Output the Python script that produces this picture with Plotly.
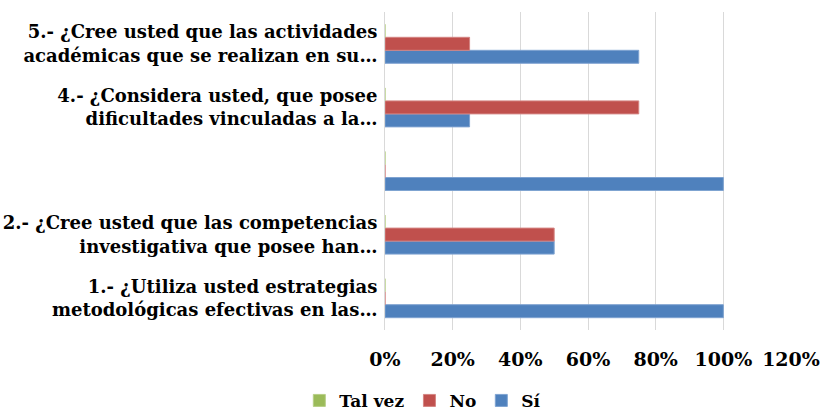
import plotly.graph_objects as go

categories = [
    "1.- ¿Utiliza usted estrategias<br>metodológicas efectivas en las…",
    "2.- ¿Cree usted que las competencias<br>investigativa que posee han…",
    " ",
    "4.- ¿Considera usted, que posee<br>dificultades vinculadas a la…",
    "5.- ¿Cree usted que las actividades<br>académicas que se realizan en su…",
]
si_values = [1.00, 0.50, 1.00, 0.25, 0.75]
no_values = [0.00, 0.50, 0.00, 0.75, 0.25]
talvez_values = [0.00, 0.00, 0.00, 0.00, 0.00]
tick_vals = [0, 0.2, 0.4, 0.6, 0.8, 1.0, 1.2]
tick_text = ["0%", "20%", "40%", "60%", "80%", "100%", "120%"]

FONT = "DejaVu Serif"

fig = go.Figure()
fig.add_trace(go.Bar(name="Sí", y=categories, x=si_values, orientation="h",
                     marker=dict(color="#4F81BD", line=dict(color="#7FA3D1", width=1))))
fig.add_trace(go.Bar(name="No", y=categories, x=no_values, orientation="h",
                     marker=dict(color="#C0504D", line=dict(color="#D48482", width=1))))
fig.add_trace(go.Bar(name="Tal vez", y=categories, x=talvez_values, orientation="h",
                     marker=dict(color="#9BBB59", line=dict(color="#B7CF87", width=1))))

fig.update_layout(
    width=821, height=412,
    margin=dict(l=385, r=30, t=12, b=82),
    barmode="group",
    bargap=0.387,
    bargroupgap=0,
    plot_bgcolor="white",
    paper_bgcolor="white",
    font=dict(family=FONT, size=18, color="black", weight="bold"),
    showlegend=True,
    legend=dict(orientation="h", traceorder="reversed",
                xref="container", yref="container",
                x=0.515, y=0.027, xanchor="center", yanchor="middle",
                itemwidth=30,
                font=dict(family=FONT, size=17, color="black", weight="bold")),
    xaxis=dict(range=[0, 1.2], tickvals=tick_vals, ticktext=tick_text,
               showgrid=True, gridcolor="#D9D9D9", gridwidth=1,
               zeroline=False, showline=False, ticks="",
               ticklabelstandoff=16, automargin=False,
               ticklabeloverflow="allow",
               tickfont=dict(family=FONT, size=19, color="black", weight="bold")),
    yaxis=dict(categoryorder="array", categoryarray=categories,
               range=[-0.5, 4.5], showgrid=False, zeroline=False,
               showline=True, linecolor="#D9D9D9", linewidth=1, ticks="",
               ticklabelstandoff=3, automargin=False,
               tickfont=dict(family=FONT, size=18, color="black", weight="bold")),
)

fig.write_html("out.html", config={"displayModeBar": False},
               post_script="document.body.style.margin='0';")
